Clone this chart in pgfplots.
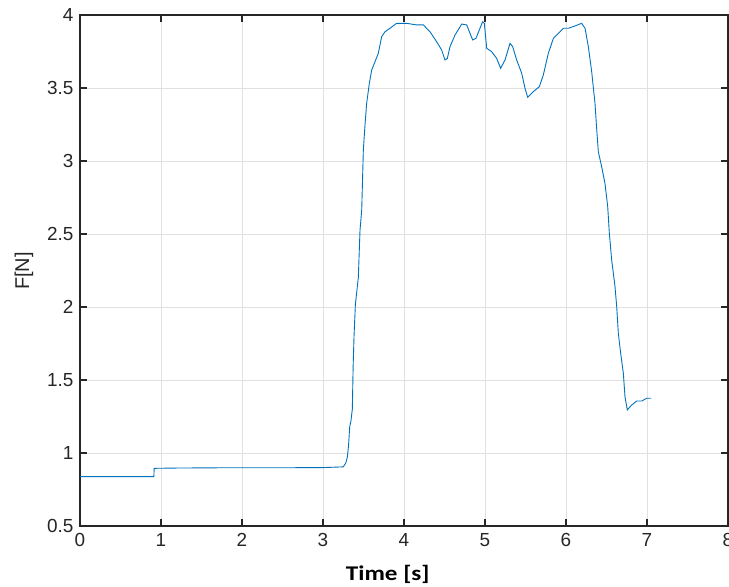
\documentclass[border=0pt]{standalone}
\usepackage{pgfplots}
\pgfplotsset{compat=1.18}
\usepackage{fontspec}
\setmainfont{Liberation Sans}
\newfontfamily\labfont[FakeStretch=1.2]{Carlito}
\definecolor{mblue}{RGB}{0,114,189}
\definecolor{axgray}{gray}{0.15}
\definecolor{gridgray}{gray}{0.88}
\begin{document}
\begin{tikzpicture}
\begin{axis}[
  at={(0,0)}, anchor=south west,
  scale only axis, width=648bp, height=511bp,
  xmin=0, xmax=8, ymin=0.5, ymax=4,
  xtick={0,1,...,8},
  ytick={0.5,1,1.5,2,2.5,3,3.5,4},
  yticklabels={0.5,1,1.5,2,2.5,3,3.5,4},
  grid=major,
  major grid style={gridgray, line width=0.8bp},
  axis line style={axgray, line width=1.2bp},
  tick style={axgray, line width=1.2bp},
  tick align=inside,
  major tick length=7bp,
  xtick pos=both, ytick pos=both,
  ticklabel style={font=\fontsize{19}{22}\selectfont, text=black!85},
  /pgf/number format/assume math mode=true,
  xticklabel style={yshift=-4bp},
  yticklabel style={xshift=-3bp},
  xlabel={\labfont\bfseries Time [s]},
  ylabel={F[N]},
  every axis x label/.style={at={(axis description cs:0.475,-0.094)}, anchor=center, font=\fontsize{21}{24}\selectfont},
  every axis y label/.style={at={(axis description cs:-0.0864,0.499)}, rotate=90, anchor=center, font=\fontsize{20}{23}\selectfont, text=black!85},
]
\addplot[mblue, line width=0.9bp] coordinates {
(0,0.838) (0.912,0.838) (0.916,0.895) (1.2,0.897) (1.8,0.899) (2.5,0.899) (3.0,0.900) (3.25,0.905)
(3.28,0.93) (3.30,0.97) (3.315,1.05) (3.33,1.18) (3.345,1.22) (3.362,1.30) (3.372,1.59)
(3.383,1.80) (3.40,2.02) (3.416,2.10) (3.436,2.20) (3.457,2.527) (3.478,2.664) (3.498,3.075)
(3.519,3.25) (3.539,3.395) (3.572,3.532) (3.601,3.623) (3.642,3.680) (3.683,3.738)
(3.724,3.851) (3.765,3.885) (3.827,3.909) (3.909,3.943) (4.033,3.943) (4.156,3.932)
(4.239,3.932) (4.321,3.885) (4.403,3.817) (4.465,3.760) (4.506,3.692) (4.535,3.703)
(4.568,3.783) (4.630,3.863) (4.712,3.938) (4.774,3.932) (4.815,3.874) (4.848,3.829)
(4.889,3.840) (4.938,3.909) (4.971,3.954) (4.992,3.943) (5.021,3.772) (5.082,3.749)
(5.144,3.703) (5.193,3.635) (5.247,3.692) (5.309,3.806) (5.342,3.783) (5.391,3.692)
(5.453,3.601) (5.494,3.498) (5.527,3.436) (5.597,3.475) (5.671,3.509) (5.720,3.589)
(5.782,3.738) (5.844,3.840) (5.926,3.885) (5.967,3.909) (6.029,3.909) (6.111,3.925)
(6.193,3.943) (6.235,3.909) (6.276,3.783) (6.317,3.612) (6.358,3.395) (6.375,3.25)
(6.399,3.064) (6.440,2.961) (6.481,2.847) (6.515,2.687) (6.535,2.505) (6.564,2.322)
(6.605,2.139) (6.626,2.002) (6.646,1.820) (6.675,1.683) (6.708,1.546) (6.728,1.386)
(6.757,1.295) (6.811,1.329) (6.873,1.356) (6.935,1.356) (6.996,1.375) (7.05,1.375)
};
\end{axis}
\pgfresetboundingbox
\useasboundingbox (-80bp,-61bp) rectangle (649bp,526bp);
\end{tikzpicture}
\end{document}
